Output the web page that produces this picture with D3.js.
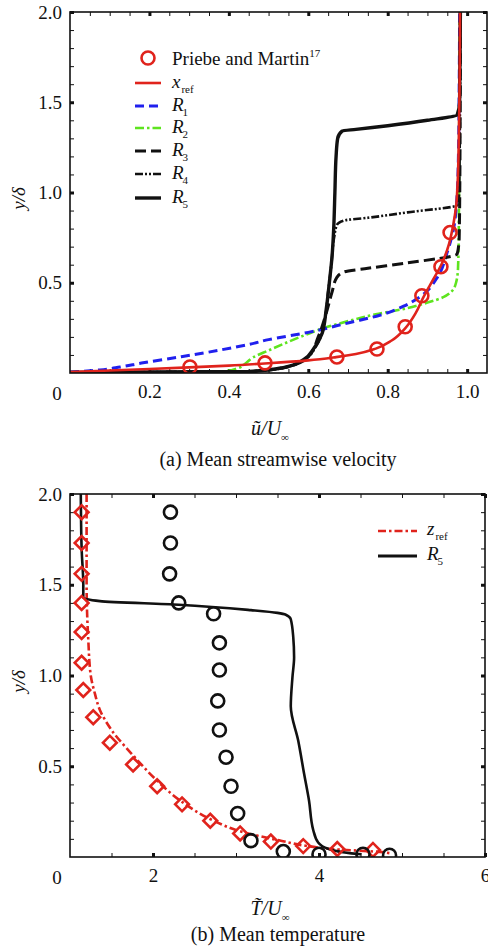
<!DOCTYPE html>
<html>
<head>
<meta charset="utf-8">
<script src="https://cdn.jsdelivr.net/npm/d3@7"></script>
<style>
  html, body { margin: 0; padding: 0; background: #fff; }
  svg { display: block; }
  text { font-family: "Liberation Serif", "Times New Roman", serif; fill: #111; }
</style>
</head>
<body>
<svg id="fig" width="488" height="949"></svg>
<script>
// ---------- (a) mean streamwise velocity profiles: [u/Uinf, y/delta] ----------
const priebeMartin = [[0.302,0.033],[0.491,0.056],[0.672,0.089],[0.773,0.133],[0.844,0.256],[0.886,0.428],[0.934,0.589],[0.957,0.778]];
const uXref = [[0,0.005],[0.1,0.014],[0.2,0.022],[0.3,0.031],[0.4,0.041],[0.5,0.054],[0.6,0.07],[0.67,0.088],[0.72,0.105],[0.77,0.135],[0.81,0.18],[0.845,0.25],[0.87,0.33],[0.89,0.42],[0.915,0.52],[0.935,0.6],[0.955,0.72],[0.965,0.82],[0.972,0.92],[0.976,1.05],[0.979,1.3],[0.981,1.6],[0.982,2.0]];
const uR1 = [[0,0.005],[0.075,0.017],[0.126,0.033],[0.18,0.055],[0.28,0.09],[0.38,0.128],[0.45,0.158],[0.5,0.185],[0.6,0.225],[0.705,0.28],[0.78,0.32],[0.84,0.37],[0.88,0.42],[0.925,0.53],[0.95,0.67],[0.965,0.79],[0.974,0.96],[0.978,1.2],[0.98,1.6],[0.981,2.0]];
const uR2 = [[0,0.003],[0.3,0.005],[0.39,0.01],[0.42,0.025],[0.44,0.05],[0.46,0.085],[0.5,0.125],[0.58,0.2],[0.64,0.25],[0.705,0.29],[0.77,0.325],[0.83,0.35],[0.9,0.39],[0.94,0.42],[0.96,0.45],[0.972,0.5],[0.977,0.58],[0.979,0.8],[0.98,1.4],[0.981,2.0]];
const uR3 = [[0,0.003],[0.45,0.008],[0.55,0.035],[0.6,0.09],[0.625,0.2],[0.645,0.33],[0.66,0.45],[0.672,0.53],[0.69,0.56],[0.75,0.58],[0.85,0.61],[0.975,0.66],[0.98,0.75],[0.982,1.2],[0.983,2.0]];
const uR4 = [[0,0.003],[0.45,0.008],[0.54,0.03],[0.59,0.075],[0.62,0.15],[0.64,0.28],[0.65,0.45],[0.658,0.6],[0.665,0.75],[0.672,0.82],[0.69,0.845],[0.75,0.86],[0.85,0.89],[0.975,0.93],[0.98,1.0],[0.982,1.5],[0.983,2.0]];
const uR5 = [[0,0.003],[0.45,0.008],[0.537,0.03],[0.587,0.072],[0.615,0.14],[0.635,0.22],[0.645,0.35],[0.653,0.5],[0.66,0.65],[0.664,0.8],[0.667,1.0],[0.67,1.2],[0.674,1.3],[0.685,1.34],[0.72,1.35],[0.8,1.37],[0.9,1.4],[0.975,1.43],[0.981,1.5],[0.983,2.0]];

// ---------- (b) mean temperature profiles: [T/Uinf, y/delta] ----------
const tZrefPts = [[1.14,1.90],[1.14,1.73],[1.14,1.56],[1.14,1.40],[1.14,1.24],[1.14,1.07],[1.16,0.92],[1.28,0.77],[1.48,0.63],[1.76,0.51],[2.05,0.39],[2.35,0.29],[2.69,0.20],[3.05,0.13],[3.42,0.085],[3.81,0.06],[4.22,0.044],[4.65,0.039]];
const tR5Pts = [[2.21,1.90],[2.21,1.73],[2.20,1.56],[2.31,1.40],[2.73,1.34],[2.80,1.18],[2.80,1.03],[2.78,0.86],[2.80,0.70],[2.88,0.55],[2.94,0.39],[3.02,0.24],[3.18,0.09],[3.57,0.03],[4.0,0.015],[4.53,0.015],[4.85,0.01]];
const tZref = [[1.2,2.0],[1.2,1.5],[1.22,1.2],[1.25,1.0],[1.3,0.9],[1.36,0.81],[1.5,0.7],[1.76,0.56],[2.05,0.42],[2.33,0.31],[2.73,0.2],[3.06,0.14],[3.54,0.09],[3.87,0.06],[4.27,0.04],[4.67,0.03],[4.87,0.02]];
const tR5 = [[1.13,2.0],[1.14,1.7],[1.16,1.5],[1.16,1.43],[1.36,1.41],[2.31,1.39],[3.18,1.36],[3.5,1.345],[3.6,1.335],[3.66,1.31],[3.69,1.21],[3.70,1.10],[3.68,0.99],[3.66,0.83],[3.75,0.64],[3.82,0.46],[3.88,0.31],[3.93,0.15],[3.99,0.08],[4.11,0.045],[4.39,0.02],[4.51,0.015]];

// ---------- tick labels ----------
const yTicks = [0.5, 1.0, 1.5, 2.0];
const xTicksA = [0.2, 0.4, 0.6, 0.8, 1.0];
const xTicksB = [2, 4, 6];

const RED = "#e0231c", BLUE = "#2020ee", GREEN = "#5ee41f", BLACK = "#111";
const svg = d3.select("#fig");

function panel(opts) {
  const { x, y, id } = opts;
  const [x0, x1] = x.range(), [y0, y1] = y.range();
  const g = svg.append("g");
  g.append("clipPath").attr("id", id).append("rect")
    .attr("x", x0).attr("y", y1).attr("width", x1 - x0).attr("height", y0 - y1);

  // minor and major ticks on all four sides, pointing inward
  const mk = (axisFn, scale, vals, size, sw, tr) => {
    const a = g.append("g").attr("transform", tr)
      .call(axisFn(scale).tickValues(vals).tickSize(size).tickFormat(""));
    a.select(".domain").remove();
    a.selectAll("line").attr("stroke", BLACK).attr("stroke-width", sw);
    return a;
  };
  mk(d3.axisBottom, x, opts.xMinor, -4, 1, `translate(0,${y0})`);
  mk(d3.axisTop, x, opts.xMinor, -4, 1, `translate(0,${y1})`);
  mk(d3.axisLeft, y, opts.yMinor, -4, 1, `translate(${x0},0)`);
  mk(d3.axisRight, y, opts.yMinor, -4, 1, `translate(${x1},0)`);
  mk(d3.axisBottom, x, opts.xMajor, -4, 3, `translate(0,${y0})`);
  mk(d3.axisTop, x, opts.xMajor, -4, 3, `translate(0,${y1})`);
  mk(d3.axisLeft, y, yTicks, -4, 3, `translate(${x0},0)`);
  mk(d3.axisRight, y, yTicks, -4, 3, `translate(${x1},0)`);

  // tick labels
  const xl = g.append("g").attr("transform", `translate(0,${y0})`)
    .call(d3.axisBottom(x).tickValues(opts.xMajor).tickSize(0).tickPadding(12).tickFormat(opts.xFmt));
  xl.select(".domain").remove();
  xl.selectAll("text").attr("font-size", 19).attr("fill", BLACK)
    .style("font-family", "'Liberation Serif', serif");
  const yl = g.append("g").attr("transform", `translate(${x0},0)`)
    .call(d3.axisLeft(y).tickValues(yTicks).tickSize(0).tickPadding(8).tickFormat(d3.format(".1f")));
  yl.select(".domain").remove();
  yl.selectAll("text").attr("font-size", 19).attr("fill", BLACK)
    .style("font-family", "'Liberation Serif', serif");
  // origin label sits at the lower-left corner
  g.append("text").attr("x", x0 - 13).attr("y", y0 + 27)
    .attr("text-anchor", "middle").attr("font-size", 19).text("0");

  // y label
  g.append("text")
    .attr("transform", `translate(25,${(y0 + y1) / 2 + 6}) rotate(-90)`)
    .attr("text-anchor", "middle").attr("font-size", 19).attr("font-style", "italic")
    .text("y/δ");

  const plot = g.append("g").attr("clip-path", `url(#${id})`);
  // frame
  g.append("rect").attr("x", x0).attr("y", y1).attr("width", x1 - x0).attr("height", y0 - y1)
    .attr("fill", "none").attr("stroke", BLACK).attr("stroke-width", 1.6);
  return { g, plot };
}

function drawLine(plot, x, y, data, color, width, dash) {
  plot.append("path").datum(data)
    .attr("d", d3.line().x(d => x(d[0])).y(d => y(d[1])).curve(d3.curveMonotoneY))
    .attr("fill", "none").attr("stroke", color).attr("stroke-width", width)
    .attr("stroke-dasharray", dash || null).attr("stroke-linejoin", "round");
}

// ================= panel (a) =================
const xA = d3.scaleLinear().domain([0, 1.05]).range([70, 487]);
const yA = d3.scaleLinear().domain([0, 2]).range([373, 12]);
const pa = panel({
  x: xA, y: yA, id: "clipA",
  xMinor: d3.range(1, 21).map(i => +(i * 0.05).toFixed(2)),
  xMajor: xTicksA, xFmt: d3.format(".1f"),
  yMinor: d3.range(1, 20).map(i => +(i * 0.1).toFixed(1))
});

const seriesA = [
  { name: "x", sub: "ref", data: uXref, color: RED,   width: 2.6, dash: null },
  { name: "R", sub: "1",   data: uR1,   color: BLUE,  width: 3,   dash: "9,5" },
  { name: "R", sub: "2",   data: uR2,   color: GREEN, width: 2.6, dash: "9,3,2.5,3" },
  { name: "R", sub: "3",   data: uR3,   color: BLACK, width: 3,   dash: "11,5" },
  { name: "R", sub: "4",   data: uR4,   color: BLACK, width: 2.6, dash: "8,2,2,2,2,2" },
  { name: "R", sub: "5",   data: uR5,   color: BLACK, width: 3.4, dash: null }
];
[seriesA[2], seriesA[1], seriesA[3], seriesA[4], seriesA[5], seriesA[0]].forEach(s =>
  drawLine(pa.plot, xA, yA, s.data, s.color, s.width, s.dash));

pa.plot.selectAll("circle.pm").data(priebeMartin).join("circle")
  .attr("cx", d => xA(d[0])).attr("cy", d => yA(d[1])).attr("r", 6.5)
  .attr("fill", "none").attr("stroke", RED).attr("stroke-width", 2.6);

// legend (a)
const la = pa.g.append("g");
la.append("circle").attr("cx", 148).attr("cy", 58).attr("r", 6.5)
  .attr("fill", "none").attr("stroke", RED).attr("stroke-width", 2.6);
const pmText = la.append("text").attr("x", 172).attr("y", 65).attr("font-size", 19);
pmText.append("tspan").text("Priebe and Martin");
pmText.append("tspan").attr("font-size", 11).attr("dy", -8).text("17");
const rowY = [83, 106, 128, 151, 174, 198];
seriesA.forEach((s, i) => {
  const yy = rowY[i];
  la.append("line").attr("x1", 135).attr("x2", 161).attr("y1", yy).attr("y2", yy)
    .attr("stroke", s.color).attr("stroke-width", s.width)
    .attr("stroke-dasharray", s.dash || null);
  const t = la.append("text").attr("x", 172).attr("y", yy + 5).attr("font-size", 19);
  t.append("tspan").attr("font-style", "italic").text(s.name);
  t.append("tspan").attr("font-size", 11).attr("dy", 5).attr("dx", s.name === "x" ? 1 : -1).text(s.sub);
});

// x label and caption (a)
const xla = pa.g.append("text").attr("x", 270).attr("y", 435).attr("text-anchor", "middle").attr("font-size", 20);
xla.append("tspan").attr("font-style", "italic").text("ũ/U");
xla.append("tspan").attr("font-size", 11).attr("dy", 6).text("∞");
pa.g.append("text").attr("x", 278).attr("y", 466).attr("text-anchor", "middle").attr("font-size", 20)
  .text("(a) Mean streamwise velocity");

// ================= panel (b) =================
const xB = d3.scaleLinear().domain([1, 6]).range([70, 485]);
const yB = d3.scaleLinear().domain([0, 2]).range([857, 494]);
const pb = panel({
  x: xB, y: yB, id: "clipB",
  xMinor: d3.range(1, 11).map(i => 1 + i * 0.5),
  xMajor: xTicksB, xFmt: d3.format("d"),
  yMinor: d3.range(1, 20).map(i => +(i * 0.1).toFixed(1))
});

drawLine(pb.plot, xB, yB, tZref, RED, 2.6, "8,3,2.5,3");
drawLine(pb.plot, xB, yB, tR5, BLACK, 2.6, null);

pb.plot.selectAll("path.dia").data(tZrefPts).join("path")
  .attr("d", d3.symbol(d3.symbolSquare, 95))
  .attr("transform", d => `translate(${xB(d[0])},${yB(d[1])}) rotate(45)`)
  .attr("fill", "none").attr("stroke", RED).attr("stroke-width", 2.6);
pb.plot.selectAll("circle.r5").data(tR5Pts).join("circle")
  .attr("cx", d => xB(d[0])).attr("cy", d => yB(d[1])).attr("r", 6.5)
  .attr("fill", "none").attr("stroke", BLACK).attr("stroke-width", 2.6);

// legend (b)
const lb = pb.g.append("g");
const seriesB = [
  { name: "z", sub: "ref", color: RED, width: 2.6, dash: "8,3,2.5,3", y: 531 },
  { name: "R", sub: "5", color: BLACK, width: 3, dash: null, y: 556 }
];
seriesB.forEach(s => {
  lb.append("line").attr("x1", 378).attr("x2", 417).attr("y1", s.y).attr("y2", s.y)
    .attr("stroke", s.color).attr("stroke-width", s.width).attr("stroke-dasharray", s.dash);
  const t = lb.append("text").attr("x", 427).attr("y", s.y + 4).attr("font-size", 19);
  t.append("tspan").attr("font-style", "italic").text(s.name);
  t.append("tspan").attr("font-size", 11).attr("dy", 5).attr("dx", s.name === "z" ? 1 : -1).text(s.sub);
});

// x label and caption (b)
const xlb = pb.g.append("text").attr("x", 270).attr("y", 915).attr("text-anchor", "middle").attr("font-size", 20);
xlb.append("tspan").attr("font-style", "italic").text("T\u0303/U");
xlb.append("tspan").attr("font-size", 11).attr("dy", 6).text("∞");
pb.g.append("text").attr("x", 278).attr("y", 941).attr("text-anchor", "middle").attr("font-size", 20)
  .text("(b) Mean temperature");
</script>
</body>
</html>
